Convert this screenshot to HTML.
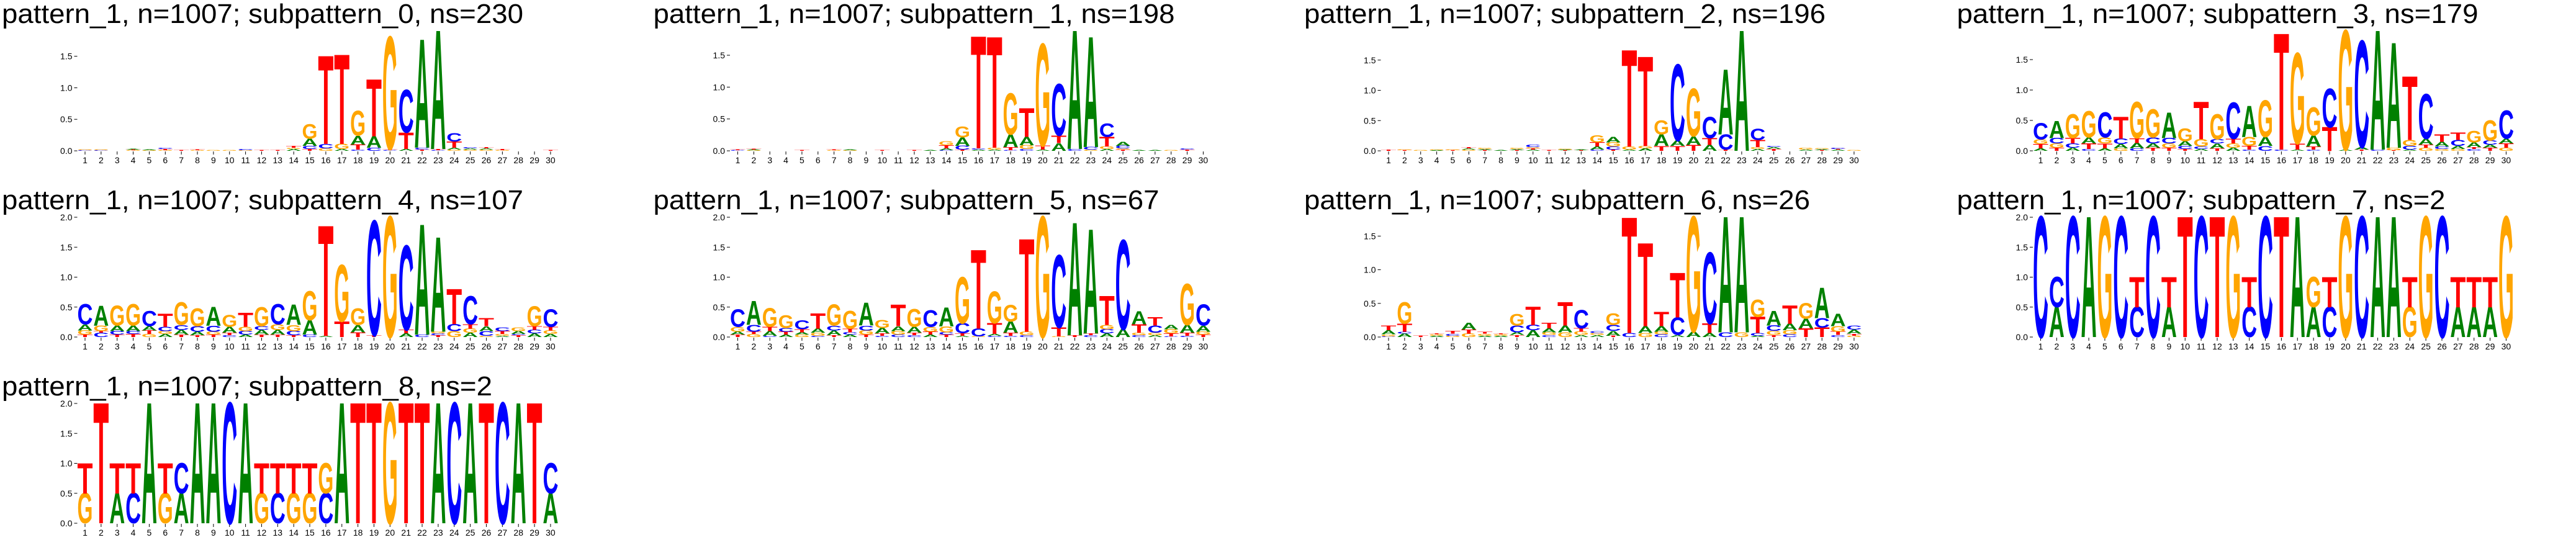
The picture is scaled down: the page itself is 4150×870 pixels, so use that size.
<!DOCTYPE html>
<html><head><meta charset="utf-8"><title>Sequence logos</title>
<style>html,body{margin:0;padding:0;background:#fff;}svg{display:block;}</style></head>
<body>
<svg id="fig" xmlns="http://www.w3.org/2000/svg" width="4150" height="870" viewBox="0 0 4150 870"></svg>
<script>
const positions = [1,2,3,4,5,6,7,8,9,10,11,12,13,14,15,16,17,18,19,20,21,22,23,24,25,26,27,28,29,30];
const titles = [
 "pattern_1, n=1007; subpattern_0, ns=230","pattern_1, n=1007; subpattern_1, ns=198",
 "pattern_1, n=1007; subpattern_2, ns=196","pattern_1, n=1007; subpattern_3, ns=179",
 "pattern_1, n=1007; subpattern_4, ns=107","pattern_1, n=1007; subpattern_5, ns=67",
 "pattern_1, n=1007; subpattern_6, ns=26","pattern_1, n=1007; subpattern_7, ns=2",
 "pattern_1, n=1007; subpattern_8, ns=2"];
const yTickValues = [0.0, 0.5, 1.0, 1.5, 2.0];
// per-panel columns: letters bottom-to-top with information heights
const sub0 = "C.01G.01 C.01G.01 - G.01T.01A.01 G.01A.01 G.01T.02C.02 T.01 G.01T.01 G.01 G.01 G.01C.02 T.01 T.01 A.03G.02T.03 T.03C.05A.11G.23 G.04C.07T1.39 A.03G.08T1.41 C.02T.08A.14G.39 C.05A.18T.9 C.01T.02G1.77 A.03T.26C.67 T.02C.03A1.71 C.01T.02A1.87 G.02A.03T.1C.13 G.02A.02C.02 G.02A.02T.02 G.01T.02 - - T.01";
const sub1 = "C.01T.01 G.01A.01T.01 - - T.01 - G.01T.01 G.01A.01 - T.01 - T.01 A.01 C.01A.03T.05G.06 T.02C.06A.13G.17 A.02C.02T1.75 A.02G.03T1.73 C.01T.05A.2G.64 C.03G.06A.13T.45 A.02T.06G1.59 A.12T.12C.8 C.03A1.85 G.02C.04A1.72 A.03G.04T.15C.21 T.02G.02C.04A.06 A.01 A.01 G.01 T.02C.02 -";
const sub2 = "T.02 T.01G.01 G.01 A.01G.01 T.01G.01 G.02A.02T.02 T.01A.02G.02 A.01 T.01A.02G.02 A.02T.02G.02C.04 T.01 T.01A.01G.01 T.01A.01 C.02A.05T.07G.12 T.02C.05G.07A.09 A.02G.05T1.59 A.04G.04T1.47 T.08A.19G.23 T.08A.09C1.25 T.1A.14G.78 A.1T.11C.35 T.02C.25A1.07 A1.98 A.03G.03T.12C.18 T.03A.03C.02 - A.02G.03 T.01A.02G.01 A.02T.01C.02 G.01";
const sub3 = "A.04T.07G.08C.27 T.05G.07C.09A.28 A.05C.07T.09G.39 C.03T.09A.1G.43 A.04T.08G.1C.41 G.04A.07C.09T.36 C.04A.09T.08G.59 T.05A.07C.1G.46 T.05G.07C.09A.42 T.03C.05A.08G.21 A.03C.04G.12T.61 T.04A.08C.07G.41 A.05G.07T.08C.59 C.02T.06G.15A.51 C.08A.15G.6 C.02T1.9 A.02T.1G1.48 C.02T.05A.18G.46 T.39C.63 A.02G1.95 T.02A.04C1.74 C.02A1.95 T.01G.04A1.72 A.02C.06G.1T1.04 G.05T.05A.1C.73 G.03C.04A.08T.12 G.03A.05C.1T.12 C.03T.03A.08G.19 T.05A.05C.07G.33 G.05T.07A.08C.46";
const sub4 = "T.04G.07A.1C.34 C.07T.03G.09A.33 T.04C.06A.09G.33 T.05C.05A.09G.36 G.05T.06A.07C.25 A.05G.05C.07T.22 T.04A.08C.08G.38 T.03A.06C.09G.3 T.04G.05C.1A.31 C.03T.04A.1G.2 A.04C.06G.07T.23 T.04A.08C.06G.32 T.04A.08G.09C.34 T.03C.07G.1A.34 C.04A.24G.48 A.02T1.83 T.26G.94 T.08A.12G.28 T.03C1.9 G2.0 A.06T.06C1.4 C.04A1.83 T.03C.03G.03A1.57 G.1C.12T.58 A.07G.07T.07C.47 G.02C.08A.08T.13 A.02G.03T.05C.06 T.03C.02A.05G.06 A.06C.06T.06G.33 A.05G.06T.06C.29";
const sub5 = "T.04A.05G.08C.29 G.05T.04C.11A.4 C.02A.08T.07G.31 A.04T.05C.06G.21 G.04A.04T.05C.15 C.02G.05A.07T.25 T.03A.08C.08G.35 A.04C.04T.06G.3 T.04G.07C.08A.38 C.02T.04A.09G.13 C.04G.06A.08T.36 C.03T.04A.1G.3 A.04T.05G.08C.28 T.04C.04G.1A.31 A.02T.04C.17G.77 G.01C.13T1.31 C.02A.03T.18G.53 C.02T.05A.19G.28 C.03G.06T1.54 G2.0 G.01T.15C1.2 T.03A1.87 C.03T.03A1.73 A.06C.07G.07T.48 A.13C1.48 C.03G.04T.14A.22 A.03G.04C.12T.14 C.01T.05G.07A.07 C.02T.05A.13G.68 T.04G.05A.1C.35";
const sub6 = "C.01G.03A.06T.07 A.05C.03T.12G.32 T.02 A.02G.02T.01 G.02C.03T.04 G.05T.06A.1 A.02G.03T.03 A.02G.02T.01 T.03A.04C.1G.17 A.1C.08T.27 C.03G.04A.06T.08 G.07A.1T.35 A.03G.05T.05C.27 A.03G.03C.03 T.02A.07C.09G.17 C.06T1.71 G.06A.1T1.23 C.04G.04A.08T.21 A.03C.26T.66 A.08G1.7 A.06T.14C1.05 C.07A1.71 G.07A1.71 A.02C.04T.24G.25 T.03G.06C.08A.22 C.04G.06A.1T.27 T.13A.14G.23 T.14C.14A.45 C.03T.05G.08A.18 G.02T.03A.06C.06";
const sub7 = "C2 A.5C.5 C2 A2 G2 C2 C.5T.5 C2 A.5T.5 T2 C2 T2 G2 C.5T.5 C2 T2 A2 A.5G.5 C.5T.5 G2 C2 A2 A2 G.5T.5 G2 C2 A.5T.5 A.5T.5 A.5T.5 G2";
const sub8 = "G.5T.5 T2 A.5T.5 C.5T.5 A2 G.5T.5 A.5C.5 A2 A2 C2 A2 G.5T.5 C.5T.5 G.5T.5 G.5T.5 C.5G.5 A2 T2 T2 G2 T2 T2 A2 C2 A2 T2 C2 A2 T2 A.5C.5";
const panelData = [sub0, sub1, sub2, sub3, sub4, sub5, sub6, sub7, sub8];

const NS = "http://www.w3.org/2000/svg";
const svg = document.getElementById('fig');
const colors = {A:'#008000', C:'#0000ff', G:'#ffa500', T:'#ff0000'};
const adv = {A:0.722, C:0.722, G:0.778, T:0.611};
const colLeft = [0, 1037.5, 2075, 3112.5];
const pos1Off = [137, 151, 162, 175];
const step = 25.86;
const titleX = [3, 15, 26, 40];
const titleW = [840, 840, 840, 840, 840, 815, 815, 787, 790];
const titleBase = [37, 337, 637];

function mk(tag, attrs, parent){ const e=document.createElementNS(NS,tag); for(const k in attrs) e.setAttribute(k, attrs[k]); (parent||svg).appendChild(e); return e; }
function parseCol(s){ const out=[]; if(s==='-') return out; const re=/([ACGT])([\d.]+)/g; let m; while((m=re.exec(s))) out.push([m[1], parseFloat(m[2])]); return out; }

panelData.forEach((str, p) => {
  const row = Math.floor(p/4), col = p%4;
  const cols = str.split(' ').map(parseCol);
  const y0 = 243 + 300*row, axH = 193;
  const ymax = Math.max(...cols.map(c => c.reduce((a,b)=>a+b[1],0)));
  const yS = v => y0 - v*axH/ymax;
  const xS = i => colLeft[col] + pos1Off[col] + (i-1)*step;
  const g = mk('g', {});
  
  
  const t = mk('text', {x: colLeft[col]+titleX[col], y: titleBase[row], 'font-family':'Liberation Sans, sans-serif', 'font-size':44, textLength: titleW[p], lengthAdjust:'spacingAndGlyphs', fill:'#000'}, g);
  t.textContent = titles[p];
  
  
  const axL = xS(1) - 12.5;
  yTickValues.forEach(v => {
    if (v > ymax + 0.005) return;
    const yy = yS(v);
    mk('line', {x1: axL-5, x2: axL, y1: yy, y2: yy, stroke:'#000', 'stroke-width':1}, g);
    const tl = mk('text', {x: axL-8, y: yy+5, 'text-anchor':'end', 'font-family':'Liberation Sans, sans-serif', 'font-size':14, fill:'#000'}, g);
    tl.textContent = v.toFixed(1);
    
    
  });
  positions.forEach((pos, i) => {
    const cx = xS(pos);
    mk('line', {x1: cx, x2: cx, y1: y0+1, y2: y0+6, stroke:'#000', 'stroke-width':1}, g);
    const xl = mk('text', {x: cx, y: y0+20, 'text-anchor':'middle', 'font-family':'Liberation Sans, sans-serif', 'font-size':14, fill:'#000'}, g);
    xl.textContent = String(pos);
    
    
    let base = 0;
    (cols[i]||[]).forEach(([L, h]) => {
      const yb = yS(base), yt = yS(base+h);
      const hp = yb - yt;
      base += h;
      if (hp < 0.3) return;
      const w = 25;
      const sx = w/(adv[L]*100), sy = hp/68.8;
      const lt = mk('text', {transform: `translate(${cx - w/2},${yb}) scale(${sx},${sy})`, 'font-family':'Liberation Sans, sans-serif', 'font-weight':'bold', 'font-size':100, fill: colors[L]}, g);
      lt.textContent = L;
      
      
    });
  });
});
</script>
</body></html>
